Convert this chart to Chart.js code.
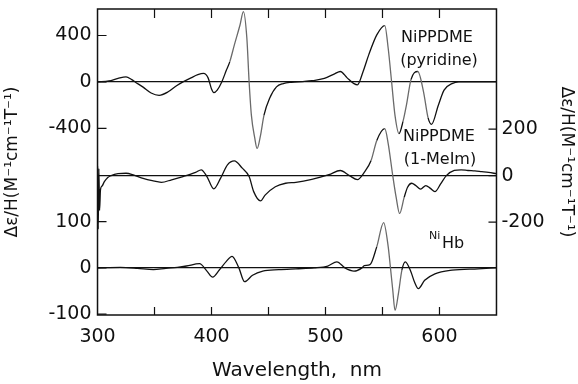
<!DOCTYPE html>
<html>
<head>
<meta charset="utf-8">
<script src="https://cdn.jsdelivr.net/npm/chart.js@4.4.1/dist/chart.umd.min.js"></script>
<style>
  html, body { margin: 0; padding: 0; background: #fff; }
  #wrap { width: 578px; height: 384px; }
</style>
</head>
<body>
<div id="wrap"><canvas id="mcd"></canvas></div>
<script>
(function () {
  "use strict";

  // NiPPDME in pyridine (top trace, left axis)
  const pyrWl  = [300, 310, 318, 325, 330, 333, 340, 347, 354, 362, 369, 375, 382, 388, 393, 397, 400, 402, 405, 409,
                  413, 416, 420, 425, 428, 431, 433, 435, 438, 440, 443, 446, 451, 457, 463, 470, 480, 488, 499, 508,
                  513, 519, 525, 528, 533, 538, 545, 552, 555, 558, 561, 564.5, 568, 571, 575, 581, 586, 590, 593, 599,
                  604, 611, 617, 630, 650];
  const pyrVal = [0, 8, 30, 43, 20, 0, -45, -95, -115, -85, -35, 0, 35, 62, 73, 35, -60, -92, -70, 0,
                  100, 173, 317, 490, 605, 378, 0, -288, -487, -573, -460, -288, -141, -43, -14, -3, 3, 10, 30, 70,
                  90, 35, -15, -25, 90, 235, 405, 485, 290, 0, -290, -445, -340, -200, 20, 90, -85, -310, -365, -200,
                  -70, -15, 0, 0, 0];

  // NiPPDME in 1-MeIm (middle trace, right axis)
  const meimWl  = [300, 300.6, 301.2, 301.8, 302.6, 304, 306, 309, 312, 318, 325, 332, 340, 348, 356, 365, 375, 386, 391, 396,
                   402, 408, 414, 420, 427, 433, 437, 443, 447, 456, 465, 474, 488, 503, 513, 521, 528, 534, 540, 545,
                   552, 555, 559, 562, 565, 569, 572, 575.6, 579, 583.5, 588, 592, 596, 601, 606, 613, 619, 625, 631, 637,
                   643, 650];
  const meimVal = [40, -230, 30, -150, -60, -45, -26, -8, 0, 8, 10, 2, -12, -22, -29, -18, -4, 14, 25, -4,
                   -57, -11, 46, 63, 32, -4, -69, -109, -84, -48, -33, -29, -16, 4, 22, 0, -17, 14, 65, 151,
                   202, 138, 0, -94, -163, -94, -50, -33, -42, -58, -43, -55, -69, -36, 0, 22, 25, 22, 20, 17,
                   14, 8];

  // NiHb (bottom trace, left axis lower part)
  const hbWl  = [300, 320, 335, 349, 360, 370, 378, 389.5, 396, 401, 407, 413, 418, 424, 429, 436, 445, 459, 474, 490,
                 502, 510, 517, 525, 532, 534, 539, 545, 551, 555, 557, 559, 561, 564, 567, 570, 575, 578, 581.5, 587,
                 596, 611, 634, 650];
  const hbVal = [0, 1, -1, -4, -1, 1, 4, 9, -7, -20, -4, 14, 25, 0, -30, -16, -7, -4, -2, 0,
                 4, 13, 0, -7, 0, 5, 7, 46, 98, 46, 0, -48, -92, -55, -5, 13, -9, -30, -45, -27,
                 -13, -5, -2, 0];

  // axis ticks
  const xTicks   = [300, 350, 400, 450, 500, 550, 600, 650];
  const xLabels  = [300, 400, 500, 600];
  const topTicks = [-400, 0, 400];
  const botTicks = [-100, 0, 100];
  const midTicks = [-200, 0, 200];

  // value ranges of the three stacked panels (all share the full plot height)
  const TOP_MIN = -2007, TOP_MAX = 628;
  const BOT_MIN = -102,  BOT_MAX = 560;
  const MID_MIN = -600,  MID_MAX = 717;

  const yTitle = 'Δε/H(M⁻¹cm⁻¹T⁻¹)';
  const ink = '#111';

  function pts(xs, ys) {
    return xs.map(function (x, i) { return { x: x, y: ys[i] }; });
  }
  // bottom-panel value expressed in top-panel units (same pixel span)
  function botToTop(v) {
    return TOP_MIN + (v - BOT_MIN) / (BOT_MAX - BOT_MIN) * (TOP_MAX - TOP_MIN);
  }
  // steep parts of the traces look faint in the original scan
  function traceColor(ctx) {
    const dx = Math.abs(ctx.p1.x - ctx.p0.x) || 0.01;
    const dy = Math.abs(ctx.p1.y - ctx.p0.y);
    if (ctx.p0.parsed.x > 320 && dy / dx > 3.5) return '#6a6a6a';
    return ink;
  }

  const trace = {
    borderWidth: 1.3,
    pointRadius: 0,
    fill: false,
    cubicInterpolationMode: 'monotone',
    segment: { borderColor: traceColor }
  };

  const frame = {
    id: 'frame',
    afterDatasetsDraw(chart) {
      const c = chart.ctx, a = chart.chartArea;
      const sx = chart.scales.x, sy = chart.scales.y, sm = chart.scales.yMid;
      c.save();
      c.strokeStyle = ink;
      c.lineWidth = 1.5;
      c.strokeRect(a.left, a.top, a.right - a.left, a.bottom - a.top);
      c.lineWidth = 1.2;
      c.beginPath();
      sx.ticks.forEach(function (t) {
        if (t.value <= sx.min || t.value >= sx.max) return;
        const px = sx.getPixelForValue(t.value);
        c.moveTo(px, a.top); c.lineTo(px, a.top + 9);
        c.moveTo(px, a.bottom); c.lineTo(px, a.bottom - 8);
      });
      sy.ticks.forEach(function (t) {
        const py = sy.getPixelForValue(t.value);
        c.moveTo(a.left, py); c.lineTo(a.left + 9, py);
      });
      sm.ticks.forEach(function (t) {
        const py = sm.getPixelForValue(t.value);
        c.moveTo(a.right, py); c.lineTo(a.right - 8, py);
      });
      c.stroke();

      // trace labels
      c.fillStyle = ink;
      c.textAlign = 'center';
      c.textBaseline = 'middle';
      c.font = '16px "DejaVu Sans"';
      c.fillText('NiPPDME', 437, 38);
      c.fillText('(pyridine)', 439, 61);
      c.fillText('NiPPDME', 439, 137);
      c.fillText('(1-MeIm)', 440, 160);
      c.textAlign = 'left';
      c.font = '11px "DejaVu Sans"';
      c.fillText('Ni', 429, 236);
      c.font = '16px "DejaVu Sans"';
      c.fillText('Hb', 442, 244);
      c.restore();
    }
  };

  const xTickFont = { family: 'DejaVu Sans', size: 19, lineHeight: 1.0 };
  const yTickFont = { family: 'DejaVu Sans', size: 19, lineHeight: 0.3 };
  const titleFont = { family: 'DejaVu Sans', size: 17 };

  new Chart(document.getElementById('mcd'), {
    type: 'line',
    data: {
      datasets: [
        Object.assign({ label: 'NiPPDME (pyridine)', data: pts(pyrWl, pyrVal), yAxisID: 'y' }, trace),
        Object.assign({ label: 'NiPPDME (1-MeIm)', data: pts(meimWl, meimVal), yAxisID: 'yMid' }, trace),
        Object.assign({ label: 'NiHb', data: pts(hbWl, hbVal), yAxisID: 'yBot' }, trace)
      ]
    },
    options: {
      responsive: true,
      maintainAspectRatio: false,
      animation: false,
      devicePixelRatio: 1,
      layout: { padding: { top: 9, left: 0, right: 0, bottom: 0 } },
      plugins: { legend: { display: false }, tooltip: { enabled: false } },
      scales: {
        x: {
          type: 'linear',
          min: 300, max: 650,
          afterBuildTicks: function (s) { s.ticks = xTicks.map(function (v) { return { value: v }; }); },
          ticks: {
            autoSkip: false, maxRotation: 0, color: ink, font: xTickFont, padding: 13,
            callback: function (v) { return xLabels.indexOf(v) >= 0 ? String(v) : ''; }
          },
          grid: { display: false, drawTicks: false },
          border: { display: false },
          title: { display: true, text: 'Wavelength,  nm', color: ink,
                   font: { family: 'DejaVu Sans', size: 20, lineHeight: 1.0 }, padding: { top: 1, bottom: 3 } }
        },
        y: {
          type: 'linear', position: 'left',
          min: TOP_MIN, max: TOP_MAX,
          afterBuildTicks: function (s) {
            s.ticks = botTicks.map(function (v) { return { value: botToTop(v), shown: v }; })
              .concat(topTicks.map(function (v) { return { value: v, shown: v }; }));
          },
          ticks: {
            autoSkip: false, color: ink, font: yTickFont, padding: 6,
            callback: function (v, i, ticks) { return String(ticks[i].shown); }
          },
          grid: {
            drawTicks: false, lineWidth: 1.3,
            color: function (ctx) { return ctx.tick && ctx.tick.shown === 0 ? ink : 'rgba(0,0,0,0)'; }
          },
          border: { display: false },
          title: { display: true, text: yTitle, color: ink, font: titleFont, padding: { top: 2, bottom: 20 } }
        },
        yBot: {
          type: 'linear', display: false,
          min: BOT_MIN, max: BOT_MAX
        },
        yMid: {
          type: 'linear', position: 'right',
          min: MID_MIN, max: MID_MAX,
          afterBuildTicks: function (s) { s.ticks = midTicks.map(function (v) { return { value: v }; }); },
          ticks: { autoSkip: false, color: ink, font: yTickFont, padding: 5 },
          grid: {
            drawTicks: false, lineWidth: 1.3,
            color: function (ctx) { return ctx.tick && ctx.tick.value === 0 ? ink : 'rgba(0,0,0,0)'; }
          },
          border: { display: false },
          title: { display: true, text: yTitle, color: ink, font: titleFont, padding: { top: 1, bottom: 7 } }
        }
      }
    },
    plugins: [frame]
  });
})();
</script>
</body>
</html>
